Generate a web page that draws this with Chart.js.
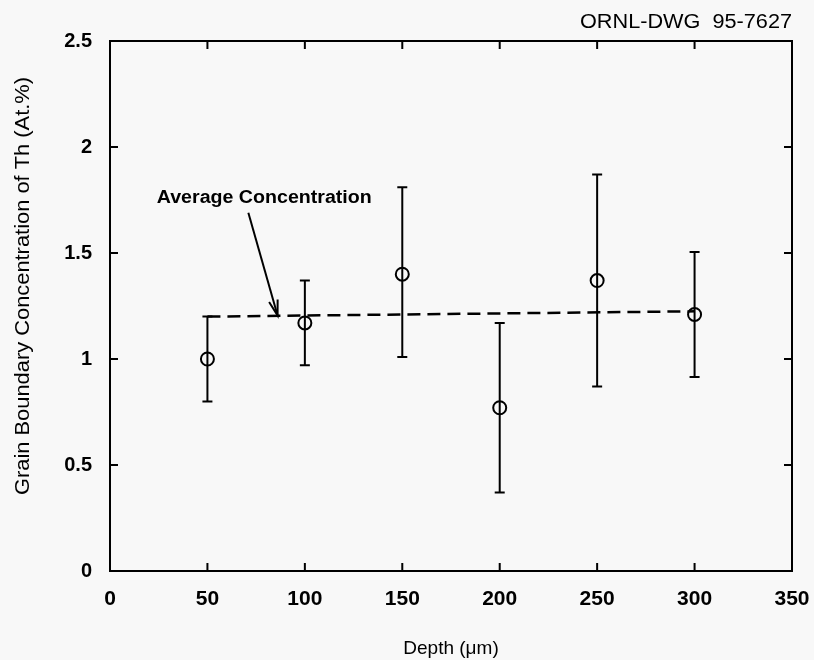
<!DOCTYPE html>
<html><head><meta charset="utf-8">
<script src="https://cdn.jsdelivr.net/npm/chart.js@4/dist/chart.umd.min.js"></script>
<style>html,body{margin:0;padding:0;background:#f8f8f8;}#wrap{width:814px;height:660px;}</style>
</head><body><div id="wrap"><canvas id="c" width="814" height="660"></canvas></div>
<script>
// ---- data ----
const depths = [50, 100, 150, 200, 250, 300];
const concentration = [1.0, 1.17, 1.40, 0.77, 1.37, 1.21];
const errLow = [0.80, 0.97, 1.01, 0.37, 0.87, 0.915];
const errHigh = [1.20, 1.37, 1.81, 1.17, 1.87, 1.505];
const avgLineX = [50, 300];
const avgLineY = [1.20, 1.225];
const xTicks = [0, 50, 100, 150, 200, 250, 300, 350];
const yTicks = [0, 0.5, 1, 1.5, 2, 2.5];
const yTickLabels = ['0', '0.5', '1', '1.5', '2', '2.5'];
const yTitle = 'Grain Boundary Concentration of Th (At.%)';
const annotationText = "Average Concentration";
const annotationTextPos = [24, 1.76];   // data coords (left x, center y)
const arrowFrom = [71, 1.69];
const arrowTo = [86, 1.205];
const drawingId = "ORNL-DWG  95-7627";

const FONT = "'Liberation Sans', Arial, sans-serif";

const framePlugin = {
  id: 'frame',
  beforeDatasetsDraw(chart) {
    const {ctx, scales: {x, y}} = chart;
    ctx.save();
    ctx.strokeStyle = '#000';
    ctx.lineWidth = 2;
    depths.forEach((d, i) => {
      const px = x.getPixelForValue(d);
      const y1 = y.getPixelForValue(errLow[i]);
      const y2 = y.getPixelForValue(errHigh[i]);
      ctx.beginPath();
      ctx.moveTo(px, y1); ctx.lineTo(px, y2);
      ctx.moveTo(px - 5, y1); ctx.lineTo(px + 5, y1);
      ctx.moveTo(px - 5, y2); ctx.lineTo(px + 5, y2);
      ctx.stroke();
    });
    ctx.restore();
  },
  afterDraw(chart) {
    const {ctx, chartArea: a, scales: {x, y}} = chart;
    ctx.save();
    ctx.strokeStyle = '#000';
    ctx.lineWidth = 2;
    ctx.strokeRect(a.left, a.top, a.right - a.left, a.bottom - a.top);
    const tl = 8;
    ctx.beginPath();
    xTicks.forEach(v => {
      const px = x.getPixelForValue(v);
      ctx.moveTo(px, a.bottom); ctx.lineTo(px, a.bottom - tl);
      ctx.moveTo(px, a.top); ctx.lineTo(px, a.top + tl);
    });
    yTicks.forEach(v => {
      const py = y.getPixelForValue(v);
      ctx.moveTo(a.left, py); ctx.lineTo(a.left + tl, py);
      ctx.moveTo(a.right, py); ctx.lineTo(a.right - tl, py);
    });
    ctx.stroke();

    // arrow
    const ax1 = x.getPixelForValue(arrowFrom[0]), ay1 = y.getPixelForValue(arrowFrom[1]);
    const ax2 = x.getPixelForValue(arrowTo[0]), ay2 = y.getPixelForValue(arrowTo[1]);
    ctx.beginPath(); ctx.moveTo(ax1, ay1); ctx.lineTo(ax2, ay2); ctx.stroke();
    const ang = Math.atan2(ay2 - ay1, ax2 - ax1);
    const hl = 16;
    ctx.beginPath();
    ctx.moveTo(ax2 - hl * Math.cos(ang - 0.28), ay2 - hl * Math.sin(ang - 0.28));
    ctx.lineTo(ax2, ay2);
    ctx.lineTo(ax2 - hl * Math.cos(ang + 0.28), ay2 - hl * Math.sin(ang + 0.28));
    ctx.stroke();

    ctx.fillStyle = '#000';
    // annotation text
    ctx.textBaseline = 'middle';
    ctx.textAlign = 'left';
    ctx.font = "bold 18px " + FONT;
    const tx = x.getPixelForValue(annotationTextPos[0]);
    const ty = y.getPixelForValue(annotationTextPos[1]);
    const w = ctx.measureText(annotationText).width;
    ctx.save();
    ctx.translate(tx, ty);
    ctx.scale(215 / w, 1);
    ctx.fillText(annotationText, 0, 0);
    ctx.restore();

    // y title
    ctx.save();
    ctx.font = "21px " + FONT;
    ctx.textAlign = 'center';
    ctx.textBaseline = 'middle';
    ctx.translate(23, 286);
    ctx.rotate(-Math.PI / 2);
    const yw = ctx.measureText(yTitle).width;
    ctx.scale(418 / yw, 1);
    ctx.fillText(yTitle, 0, 0);
    ctx.restore();

    // drawing id
    ctx.save();
    ctx.font = "20px " + FONT;
    ctx.textAlign = 'right';
    ctx.textBaseline = 'alphabetic';
    const dw = ctx.measureText(drawingId).width;
    ctx.translate(a.right, 28);
    ctx.scale(212 / dw, 1);
    ctx.fillText(drawingId, 0, 0);
    ctx.restore();
    ctx.restore();
  }
};

new Chart(document.getElementById('c'), {
  type: 'scatter',
  data: {
    datasets: [
      {
        type: 'line',
        data: avgLineX.map((v, i) => ({x: v, y: avgLineY[i]})),
        borderColor: '#000',
        borderWidth: 2.5,
        borderDash: [13, 7],
        pointRadius: 0,
        fill: false,
        order: 2
      },
      {
        data: depths.map((d, i) => ({x: d, y: concentration[i]})),
        pointStyle: 'circle',
        pointRadius: 6.5,
        pointBorderWidth: 2,
        borderColor: '#000',
        backgroundColor: 'rgba(0,0,0,0)',
        order: 1
      }
    ]
  },
  options: {
    responsive: false,
    animation: false,
    layout: {padding: {top: 41, right: 22, left: 0, bottom: 0}},
    plugins: {legend: {display: false}, tooltip: {enabled: false}},
    scales: {
      x: {
        type: 'linear', min: 0, max: 350,
        afterBuildTicks: s => { s.ticks = xTicks.map(v => ({value: v})); },
        afterFit: s => { s.height = 89; s.paddingLeft = 0; s.paddingRight = 0; },
        grid: {display: false, drawTicks: false},
        border: {display: false},
        ticks: {color: '#000', padding: 16, font: {family: FONT, size: 21, weight: 'bold'}},
        title: {display: true, text: 'Depth (\u03bcm)', color: '#000', padding: {top: 9, bottom: 0},
                font: {family: FONT, size: 19}}
      },
      y: {
        type: 'linear', min: 0, max: 2.5,
        afterBuildTicks: s => { s.ticks = yTicks.map(v => ({value: v})); },
        afterFit: s => { s.width = 110; s.paddingTop = 0; s.paddingBottom = 0; },
        grid: {display: false, drawTicks: false},
        border: {display: false},
        ticks: {color: '#000', padding: 18, font: {family: FONT, size: 20, weight: 'bold'},
                callback: (v) => { const i = yTicks.indexOf(v); return i >= 0 ? yTickLabels[i] : ''; }},
        title: {display: false}
      }
    }
  },
  plugins: [framePlugin]
});
</script></body></html>
